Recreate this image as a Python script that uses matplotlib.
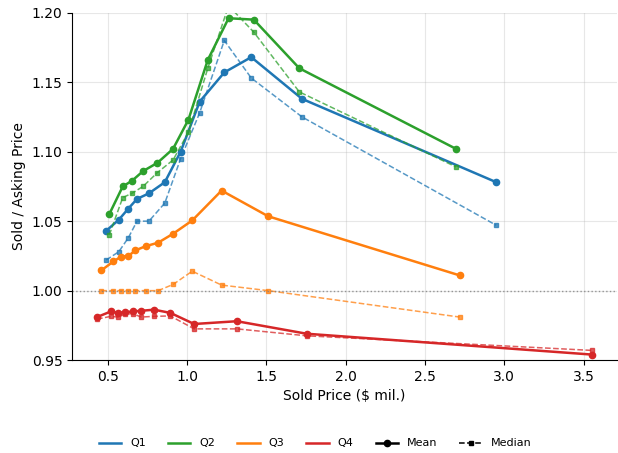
import numpy as np
import matplotlib.pyplot as plt
from matplotlib.lines import Line2D

# sold price bins ($ mil.) and sold/asking ratio, one set per quarter
q1_price = [0.49, 0.57, 0.63, 0.685, 0.76, 0.86, 0.96, 1.08, 1.235, 1.405, 1.725, 2.95]
q1_mean = [1.043, 1.051, 1.059, 1.066, 1.070, 1.078, 1.100, 1.136, 1.157, 1.168, 1.138, 1.078]
q1_median = [1.022, 1.028, 1.038, 1.050, 1.050, 1.063, 1.095, 1.128, 1.180, 1.153, 1.125, 1.047]

q2_price = [0.51, 0.595, 0.653, 0.723, 0.814, 0.912, 1.009, 1.131, 1.262, 1.421, 1.708, 2.696]
q2_mean = [1.055, 1.075, 1.079, 1.086, 1.092, 1.102, 1.123, 1.166, 1.196, 1.195, 1.160, 1.102]
q2_median = [1.040, 1.067, 1.070, 1.075, 1.085, 1.094, 1.114, 1.160, 1.205, 1.186, 1.143, 1.089]

q3_price = [0.459, 0.536, 0.585, 0.631, 0.675, 0.740, 0.818, 0.913, 1.033, 1.218, 1.512, 2.718]
q3_mean = [1.0145, 1.021, 1.0245, 1.025, 1.029, 1.032, 1.0345, 1.041, 1.0505, 1.072, 1.0535, 1.011]
q3_median = [1.000, 1.000, 1.000, 1.000, 1.000, 1.000, 1.000, 1.0045, 1.014, 1.004, 1.000, 0.981]

q4_price = [0.433, 0.52, 0.564, 0.61, 0.657, 0.711, 0.792, 0.895, 1.045, 1.314, 1.754, 3.553]
q4_mean = [0.981, 0.985, 0.984, 0.9845, 0.985, 0.9855, 0.9863, 0.984, 0.976, 0.978, 0.969, 0.954]
q4_median = [0.9795, 0.9815, 0.981, 0.983, 0.9835, 0.981, 0.9815, 0.9818, 0.9725, 0.9725, 0.9675, 0.957]

quarters = ['Q1', 'Q2', 'Q3', 'Q4']
colors = ['#1f77b4', '#2ca02c', '#ff7f0e', '#d62728']
prices = [q1_price, q2_price, q3_price, q4_price]
means = [q1_mean, q2_mean, q3_mean, q4_mean]
medians = [q1_median, q2_median, q3_median, q4_median]

fig, ax = plt.subplots(figsize=(6.18, 4.53), dpi=100)

for x, mn, md, c in zip(prices, means, medians, colors):
    ax.plot(x, mn, '-o', color=c, lw=1.8, ms=4.5)
    ax.plot(x, md, '--s', color=c, lw=1.1, ms=3.2, alpha=0.75)

ax.axhline(1.0, color='gray', ls=':', lw=1, alpha=0.8)

ax.set_ylim(0.95, 1.20)
ax.set_xlabel('Sold Price ($ mil.)')
ax.set_ylabel('Sold / Asking Price')
ax.grid(True, alpha=0.3)
ax.spines['top'].set_visible(False)
ax.spines['right'].set_visible(False)

handles = [Line2D([0], [0], color=c, lw=1.8) for c in colors]
handles.append(Line2D([0], [0], color='k', lw=1.8, marker='o', ms=4.5))
handles.append(Line2D([0], [0], color='k', lw=1.1, ls='--', marker='s', ms=3.2))
labels = quarters + ['Mean', 'Median']
fig.legend(handles, labels, loc='lower center', ncol=6, frameon=False,
           fontsize=8, bbox_to_anchor=(0.51, -0.012))

plt.subplots_adjust(left=0.117, right=0.998, top=0.972, bottom=0.205)
plt.savefig('out.png')
